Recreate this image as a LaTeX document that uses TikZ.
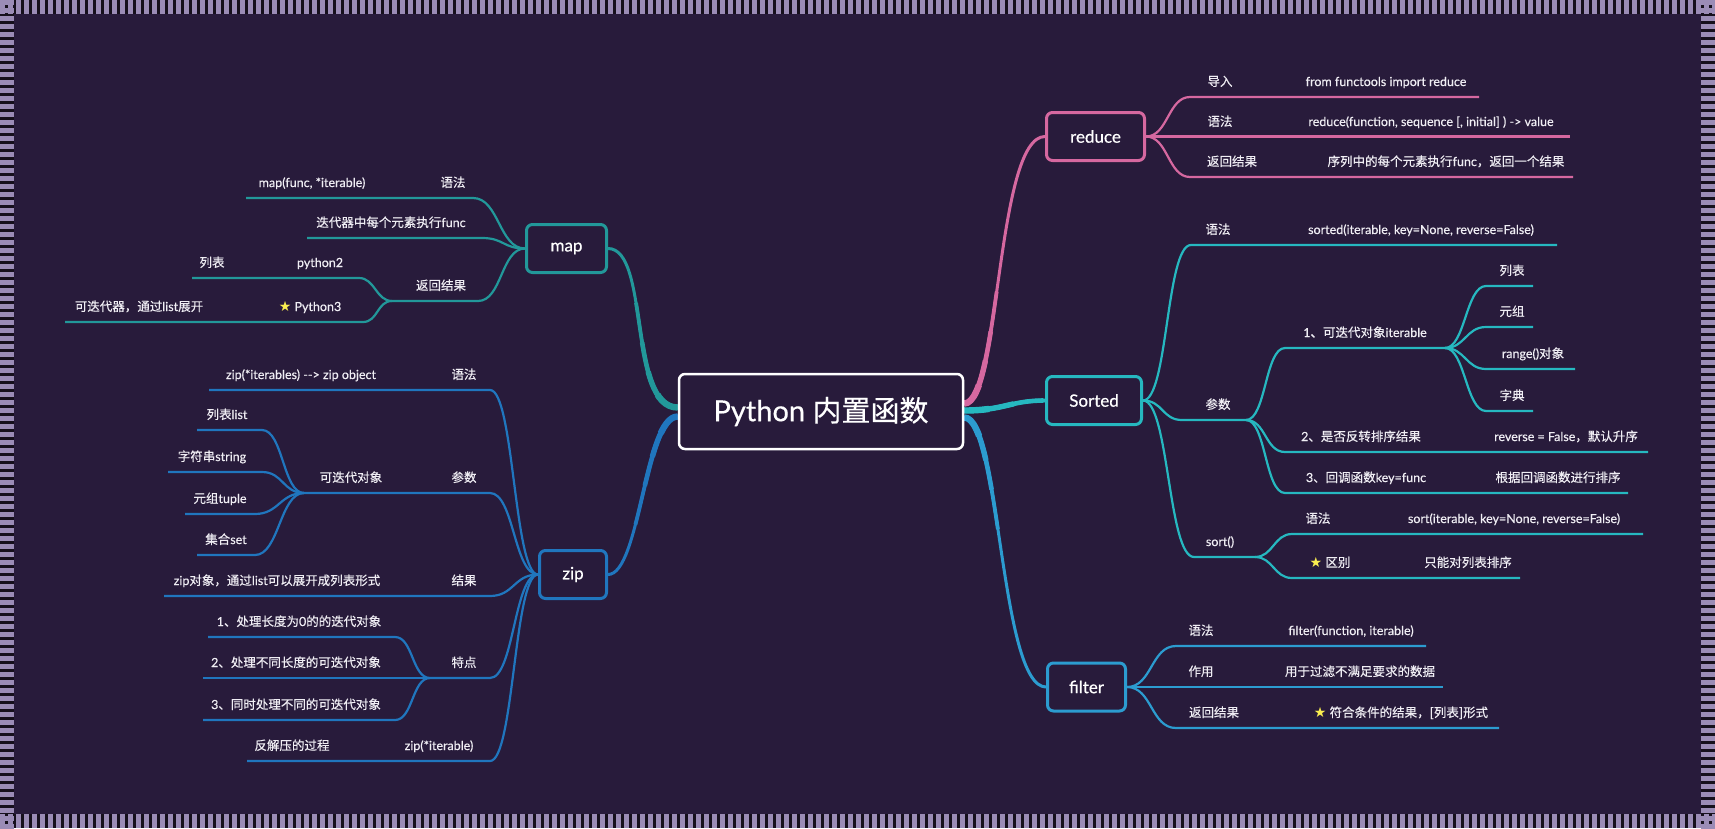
\documentclass[tikz,border=0pt]{standalone}
\usepackage{fontspec}
\setmainfont{Lato}[FakeBold=0.45]
\newfontfamily\cjk{Noto Sans CJK SC}[FakeBold=0.35]
\newfontfamily\dvsym{DejaVu Sans}
\newcommand\hz[1]{{\cjk #1}}
\definecolor{bgc}{RGB}{40,27,59}
\definecolor{stripd}{RGB}{22,16,28}
\definecolor{stripl}{RGB}{155,140,182}
\definecolor{txt}{RGB}{240,238,244}
\definecolor{stary}{RGB}{250,238,80}
\definecolor{mapc}{RGB}{34,152,154}
\definecolor{zipc}{RGB}{32,118,190}
\definecolor{redc}{RGB}{214,104,160}
\definecolor{sortc}{RGB}{38,184,192}
\definecolor{filc}{RGB}{44,156,208}
\newcommand\mystar{{\dvsym\fontsize{14}{15}\selectfont\color{stary}★}}
\newcommand\mainbr[2]{%
  \draw[#1,line width=3] #2;
  \draw[#1,line width=3.8,dash pattern=on 120pt off 3000pt] #2;
  \draw[#1,line width=4.6,dash pattern=on 80pt off 3000pt] #2;
  \draw[#1,line width=5.4,dash pattern=on 50pt off 3000pt] #2;
  \draw[#1,line width=6.4,dash pattern=on 25pt off 3000pt] #2;}
\pgfdeclarelayer{back}
\pgfdeclarelayer{conn}
\pgfsetlayers{back,conn,main}
\begin{document}
\begin{tikzpicture}[x=1pt,y=-1pt,line cap=round,line join=round,
  box/.style={draw,line width=3,rounded corners=6,fill=bgc,text=white,
    font=\fontsize{17}{20}\selectfont,minimum height=48,inner sep=0},
  leaf/.style={text=txt,font=\fontsize{12.5}{15}\selectfont,inner sep=0,anchor=base},
  mapl/.style={draw=mapc,line width=2.2},
  zipl/.style={draw=zipc,line width=2.2},
  redl/.style={draw=redc,line width=2.2},
  sortl/.style={draw=sortc,line width=2.2},
  filtl/.style={draw=filc,line width=2.2}]
\useasboundingbox (0,0) rectangle (1715,828);
\begin{pgfonlayer}{back}
\fill[stripd] (0,0) rectangle (1715,828);
\foreach \i in {0,...,214} {
  \fill[stripl] ({\i*8},0) rectangle ++(5,14);
  \fill[stripl] ({\i*8},814) rectangle ++(5,14);}
\foreach \j in {0,...,103} {
  \fill[stripl] (0,{\j*8}) rectangle ++(14,5);
  \fill[stripl] (1701,{\j*8}) rectangle ++(14,5);}
\fill[bgc] (14,14) rectangle (1701,814);
\end{pgfonlayer}

% ---------- boxes ----------
\node[box,draw=white,line width=2.5,minimum width=284,minimum height=75,
  font=\fontsize{29}{34}\selectfont] (root) at (821,411.5) {Python \hz{内置函数}};
\node[box,draw=mapc,minimum width=80] (map) at (566.5,248.5) {map};
\node[box,draw=zipc,minimum width=67] (zip) at (573,574.5) {zip};
\node[box,draw=redc,minimum width=98] (reduce) at (1095.5,136.5) {reduce};
\node[box,draw=sortc,minimum width=95] (sorted) at (1094,400.5) {Sorted};
\node[box,draw=filc,minimum width=78] (filter) at (1086.5,687) {filter};

% ---------- map ----------
\coordinate (m1r) at (473,198); \coordinate (m1l) at (246,198);
\node[leaf] (tm1a) at (312,187) {map(func, *iterable)};
\node[leaf] (tm1b) at (453,187) {\hz{语法}};
\coordinate (m2r) at (482,238); \coordinate (m2l) at (307,238);
\node[leaf] (tm2) at (391,227) {\hz{迭代器中每个元素执行}func};
\coordinate (m3r) at (478,301); \coordinate (mJ) at (392,301);
\node[leaf] (tm3) at (441,290) {\hz{返回结果}};
\coordinate (m4r) at (359,278); \coordinate (m4l) at (192,278);
\node[leaf] (tm4a) at (212,267) {\hz{列表}};
\node[leaf] (tm4b) at (320,267) {python2};
\coordinate (m5r) at (363,322); \coordinate (m5l) at (65,322);
\node[leaf] (tm5a) at (139,311) {\hz{可迭代器，通过}list\hz{展开}};
\node[leaf] (tm5b) at (310,311) {\mystar\ Python3};

% ---------- zip ----------
\coordinate (z1r) at (490,390); \coordinate (z1l) at (209,390);
\node[leaf] (tz1a) at (301,379) {zip(*iterables) -{}-{}> zip object};
\node[leaf] (tz1b) at (464,379) {\hz{语法}};
\coordinate (z2r) at (490,493); \coordinate (zJ1) at (304,493);
\node[leaf] (tz2a) at (351,482) {\hz{可迭代对象}};
\node[leaf] (tz2b) at (464,482) {\hz{参数}};
\coordinate (z2ar) at (262,430); \coordinate (z2al) at (197,430);
\node[leaf] (tz2c) at (227,419) {\hz{列表}list};
\coordinate (z2br) at (262,472); \coordinate (z2bl) at (168,472);
\node[leaf] (tz2d) at (212,461) {\hz{字符串}string};
\coordinate (z2cr) at (255,514); \coordinate (z2cl) at (185,514);
\node[leaf] (tz2e) at (220,503) {\hz{元组}tuple};
\coordinate (z2dr) at (255,555); \coordinate (z2dl) at (197,555);
\node[leaf] (tz2f) at (226,544) {\hz{集合}set};
\coordinate (z3r) at (490,596); \coordinate (z3l) at (164,596);
\node[leaf] (tz3a) at (277,585) {zip\hz{对象，通过}list\hz{可以展开成列表形式}};
\node[leaf] (tz3b) at (464,585) {\hz{结果}};
\coordinate (z4r) at (490,678); \coordinate (zJ2) at (430,678);
\node[leaf] (tz4) at (464,667) {\hz{特点}};
\coordinate (z4ar) at (395,637); \coordinate (z4al) at (208,637);
\node[leaf] (tz4a) at (299,626) {1\hz{、处理长度为}0\hz{的的迭代对象}};
\coordinate (z4bl) at (203,678);
\node[leaf] (tz4b) at (296,667) {2\hz{、处理不同长度的可迭代对象}};
\coordinate (z4cr) at (395,720); \coordinate (z4cl) at (203,720);
\node[leaf] (tz4c) at (296,709) {3\hz{、同时处理不同的可迭代对象}};
\coordinate (z5r) at (490,761); \coordinate (z5l) at (247,761);
\node[leaf] (tz5a) at (292,750) {\hz{反解压的过程}};
\node[leaf] (tz5b) at (439,750) {zip(*iterable)};

% ---------- reduce ----------
\coordinate (r1l) at (1190,97); \coordinate (r1r) at (1479,97);
\node[leaf] (tr1a) at (1220,86) {\hz{导入}};
\node[leaf] (tr1b) at (1386,86) {from functools import reduce};
\coordinate (r2r) at (1570,136.5);
\node[leaf] (tr2a) at (1220,126) {\hz{语法}};
\node[leaf] (tr2b) at (1431,126) {reduce(function, sequence [, initial] ) -> value};
\coordinate (r3l) at (1190,177); \coordinate (r3r) at (1573,177);
\node[leaf] (tr3a) at (1232,166) {\hz{返回结果}};
\node[leaf] (tr3b) at (1446,166) {\hz{序列中的每个元素执行}func\hz{，返回一个结果}};

% ---------- sorted ----------
\coordinate (s1l) at (1191,245); \coordinate (s1r) at (1557,245);
\node[leaf] (ts1a) at (1218,234) {\hz{语法}};
\node[leaf] (ts1b) at (1421,234) {sorted(iterable, key=None, reverse=False)};
\coordinate (s2l) at (1182,420); \coordinate (sJ) at (1246,420);
\node[leaf] (ts2) at (1218,409) {\hz{参数}};
\coordinate (s2al) at (1285,348); \coordinate (sJ3) at (1445,348);
\node[leaf] (ts2a) at (1365,337) {1\hz{、可迭代对象}iterable};
\coordinate (sa1l) at (1486,286); \coordinate (sa1r) at (1533,286);
\node[leaf] (tsa1) at (1512,275) {\hz{列表}};
\coordinate (sa2l) at (1486,327); \coordinate (sa2r) at (1533,327);
\node[leaf] (tsa2) at (1512,316) {\hz{元组}};
\coordinate (sa3l) at (1486,369); \coordinate (sa3r) at (1575,369);
\node[leaf] (tsa3) at (1533,358) {range()\hz{对象}};
\coordinate (sa4l) at (1486,411); \coordinate (sa4r) at (1533,411);
\node[leaf] (tsa4) at (1512,400) {\hz{字典}};
\coordinate (s2bl) at (1285,452); \coordinate (s2br) at (1648,452);
\node[leaf] (ts2b) at (1361,441) {2\hz{、是否反转排序结果}};
\node[leaf] (ts2c) at (1566,441) {reverse = False\hz{，默认升序}};
\coordinate (s2cl) at (1285,493); \coordinate (s2cr) at (1628,493);
\node[leaf] (ts2d) at (1366,482) {3\hz{、回调函数}key=func};
\node[leaf] (ts2e) at (1558,482) {\hz{根据回调函数进行排序}};
\coordinate (s3l) at (1194,557); \coordinate (sJ2) at (1255,557);
\node[leaf] (ts3) at (1220,546) {sort()};
\coordinate (s3al) at (1292,534); \coordinate (s3ar) at (1643,534);
\node[leaf] (ts3a) at (1318,523) {\hz{语法}};
\node[leaf] (ts3b) at (1514,523) {sort(iterable, key=None, reverse=False)};
\coordinate (s3bl) at (1292,578); \coordinate (s3br) at (1520,578);
\node[leaf] (ts3c) at (1330,567) {\mystar\ \hz{区别}};
\node[leaf] (ts3d) at (1468,567) {\hz{只能对列表排序}};

% ---------- filter ----------
\coordinate (f1l) at (1176,646); \coordinate (f1r) at (1426,646);
\node[leaf] (tf1a) at (1201,635) {\hz{语法}};
\node[leaf] (tf1b) at (1351,635) {filter(function, iterable)};
\coordinate (f2r) at (1443,687);
\node[leaf] (tf2a) at (1201,676) {\hz{作用}};
\node[leaf] (tf2b) at (1360,676) {\hz{用于过滤不满足要求的数据}};
\coordinate (f3l) at (1176,728); \coordinate (f3r) at (1499,728);
\node[leaf] (tf3a) at (1214,717) {\hz{返回结果}};
\node[leaf] (tf3b) at (1401,717) {\mystar\ \hz{符合条件的结果，[列表]形式}};

% ---------- connectors ----------
\begin{pgfonlayer}{conn}
\mainbr{mapc}{([yshift=4pt]root.west) .. controls +(-50,0) and +(42,0) .. (map.east)}
\mainbr{zipc}{([yshift=-5pt]root.west) .. controls +(-33,0) and +(32,0) .. (zip.east)}
\mainbr{redc}{([yshift=8pt]root.east) .. controls +(36,0) and +(-49,0) .. (reduce.west)}
\mainbr{sortc}{([yshift=1pt]root.east) .. controls +(40,0) and +(-35,0) .. (sorted.west)}
\mainbr{filc}{([yshift=-6pt]root.east) .. controls +(36,0) and +(-46,0) .. (filter.west)}

\draw[mapl] (map.west) .. controls +(-26,0) and +(26,0) .. (m1r) -- (m1l);
\draw[mapl] (map.west) .. controls +(-22,0) and +(22,0) .. (m2r) -- (m2l);
\draw[mapl] (map.west) .. controls +(-24,0) and +(24,0) .. (m3r) -- (mJ);
\draw[mapl] (mJ) .. controls +(-16,0) and +(16,0) .. (m4r) -- (m4l);
\draw[mapl] (mJ) .. controls +(-15,0) and +(15,0) .. (m5r) -- (m5l);

\draw[zipl] (zip.west) .. controls +(-24,0) and +(24,0) .. (z1r) -- (z1l);
\draw[zipl] (zip.west) .. controls +(-24,0) and +(24,0) .. (z2r) -- (zJ1);
\draw[zipl] (zip.west) .. controls +(-24,0) and +(24,0) .. (z3r) -- (z3l);
\draw[zipl] (zip.west) .. controls +(-24,0) and +(24,0) .. (z4r) -- (zJ2);
\draw[zipl] (zip.west) .. controls +(-24,0) and +(24,0) .. (z5r) -- (z5l);
\draw[zipl] (zJ1) .. controls +(-21,0) and +(21,0) .. (z2ar) -- (z2al);
\draw[zipl] (zJ1) .. controls +(-21,0) and +(21,0) .. (z2br) -- (z2bl);
\draw[zipl] (zJ1) .. controls +(-24,0) and +(24,0) .. (z2cr) -- (z2cl);
\draw[zipl] (zJ1) .. controls +(-24,0) and +(24,0) .. (z2dr) -- (z2dl);
\draw[zipl] (zJ2) .. controls +(-18,0) and +(18,0) .. (z4ar) -- (z4al);
\draw[zipl] (zJ2) -- (z4bl);
\draw[zipl] (zJ2) .. controls +(-18,0) and +(18,0) .. (z4cr) -- (z4cl);

\draw[redl] (reduce.east) .. controls +(22,0) and +(-22,0) .. (r1l) -- (r1r);
\draw[redl] (reduce.east) -- (r2r);
\draw[redl] (reduce.east) .. controls +(22,0) and +(-22,0) .. (r3l) -- (r3r);

\draw[sortl] (sorted.east) .. controls +(25,0) and +(-25,0) .. (s1l) -- (s1r);
\draw[sortl] (sorted.east) .. controls +(20,0) and +(-20,0) .. (s2l) -- (sJ);
\draw[sortl] (sorted.east) .. controls +(26,0) and +(-26,0) .. (s3l) -- (sJ2);
\draw[sortl] (sJ) .. controls +(20,0) and +(-20,0) .. (s2al) -- (sJ3);
\draw[sortl] (sJ) .. controls +(20,0) and +(-20,0) .. (s2bl) -- (s2br);
\draw[sortl] (sJ) .. controls +(20,0) and +(-20,0) .. (s2cl) -- (s2cr);
\draw[sortl] (sJ3) .. controls +(20,0) and +(-20,0) .. (sa1l) -- (sa1r);
\draw[sortl] (sJ3) .. controls +(20,0) and +(-20,0) .. (sa2l) -- (sa2r);
\draw[sortl] (sJ3) .. controls +(20,0) and +(-20,0) .. (sa3l) -- (sa3r);
\draw[sortl] (sJ3) .. controls +(20,0) and +(-20,0) .. (sa4l) -- (sa4r);
\draw[sortl] (sJ2) .. controls +(18,0) and +(-18,0) .. (s3al) -- (s3ar);
\draw[sortl] (sJ2) .. controls +(18,0) and +(-18,0) .. (s3bl) -- (s3br);

\draw[filtl] (filter.east) .. controls +(25,0) and +(-25,0) .. (f1l) -- (f1r);
\draw[filtl] (filter.east) -- (f2r);
\draw[filtl] (filter.east) .. controls +(25,0) and +(-25,0) .. (f3l) -- (f3r);
\end{pgfonlayer}
\end{tikzpicture}
\end{document}
